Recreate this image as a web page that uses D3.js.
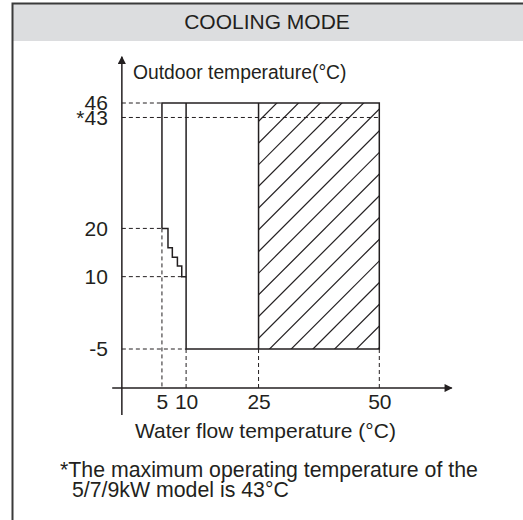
<!DOCTYPE html>
<html>
<head>
<meta charset="utf-8">
<script src="https://cdn.jsdelivr.net/npm/d3@7"></script>
<style>
  body { margin: 0; background: #fff; }
  text { font-family: "Liberation Sans", Arial, sans-serif; fill: #231f20; }
</style>
</head>
<body>
<div id="chart"></div>
<script>
// canvas size
var width = 523, height = 520;

// operating range (water flow temp, outdoor temp)
var xTicks = [5, 10, 25, 50];
var yTicks = [46, 43, 20, 10, -5];
var yTickLabels = ["46", "*43", "20", "10", "-5"];

// left boundary: step line from (5,20) down to (10,10)
var stepX = [5, 6.25, 6.25, 7.15, 7.15, 8.2, 8.2, 9.1, 9.1, 10];
var stepY = [20, 20, 16, 16, 14, 14, 12.2, 12.2, 10, 10];

var topTemp = 46, limitTemp = 43, lowTemp = -5;
var hatchFrom = 25, hatchTo = 50;

var titleText = "COOLING MODE";
var yLabel = "Outdoor temperature(°C)";
var xLabel = "Water flow temperature (°C)";
var noteLines = ["*The maximum operating temperature of the", "5/7/9kW model is 43°C"];

var ink = "#231f20";

var svg = d3.select("#chart").append("svg")
    .attr("width", width)
    .attr("height", height);

// header band and frame
svg.append("rect")
    .attr("x", 13).attr("y", 4)
    .attr("width", width - 13).attr("height", 37)
    .attr("fill", "#dcdddf");
svg.append("path")
    .attr("d", "M12.5," + height + "V3.5H" + width)
    .attr("fill", "none")
    .attr("stroke", "#3a3a3a")
    .attr("stroke-width", 2);

svg.append("text")
    .attr("x", 267).attr("y", 28.5)
    .attr("text-anchor", "middle")
    .style("font-size", "21px")
    .text(titleText);

// scales
var x = d3.scaleLinear().domain([0, 50]).range([137.8, 379.3]);
var y = d3.scaleLinear().domain([-5, 46]).range([349, 103]);

// axis extents in data units
var xAxisY = -13.1, yAxisX = -3.3;

// defs: arrow head
svg.append("defs").append("marker")
    .attr("id", "arrow")
    .attr("viewBox", "0 0 10 10")
    .attr("refX", 9).attr("refY", 5)
    .attr("markerWidth", 10).attr("markerHeight", 8)
    .attr("markerUnits", "userSpaceOnUse")
    .attr("orient", "auto")
  .append("path")
    .attr("d", "M0,0L10,5L0,10Z")
    .attr("fill", ink);

// dashed guide lines
var dash = svg.append("g")
    .attr("stroke", ink)
    .attr("stroke-width", 1)
    .attr("stroke-dasharray", "4,3");

function dline(x1, y1, x2, y2) {
    dash.append("line")
        .attr("x1", x(x1)).attr("y1", y(y1))
        .attr("x2", x(x2)).attr("y2", y(y2));
}
dline(yAxisX, topTemp, 5, topTemp);
dline(yAxisX, limitTemp, hatchTo, limitTemp);
dline(yAxisX, 20, 5, 20);
dline(yAxisX, 10, 10, 10);
dline(yAxisX, lowTemp, 10, lowTemp);
dline(5, 20, 5, xAxisY);
dline(10, lowTemp, 10, xAxisY);
dline(25, lowTemp, 25, xAxisY);
dline(50, lowTemp, 50, xAxisY);

// hatched area 25..50
svg.append("clipPath").attr("id", "hclip")
  .append("rect")
    .attr("x", x(hatchFrom)).attr("y", y(topTemp))
    .attr("width", x(hatchTo) - x(hatchFrom))
    .attr("height", y(lowTemp) - y(topTemp));

var hatch = svg.append("g")
    .attr("clip-path", "url(#hclip)")
    .attr("stroke", ink)
    .attr("stroke-width", 1.2);
var x0 = x(hatchFrom), x1 = x(hatchTo), y0 = y(topTemp), y1 = y(lowTemp);
var gap = 21.7, start = x0 + y1 - 10.7;
for (var c = start - gap * 12; c < x1 + y1 + gap; c += gap) {
    hatch.append("line")
        .attr("x1", x0 - 5).attr("y1", c - (x0 - 5))
        .attr("x2", x1 + 5).attr("y2", c - (x1 + 5));
}

// region outlines
var solid = svg.append("g")
    .attr("fill", "none")
    .attr("stroke", ink)
    .attr("stroke-width", 1.5);

var line = d3.line().x(d => x(d[0])).y(d => y(d[1]));

var outline = [[5, 20], [5, topTemp], [hatchTo, topTemp], [hatchTo, lowTemp], [10, lowTemp], [10, topTemp]];
solid.append("path").attr("d", line(outline));
solid.append("path").attr("d", line(d3.zip(stepX, stepY)));
solid.append("path").attr("d", line([[25, topTemp], [25, lowTemp]]));

// axes
var axes = svg.append("g")
    .attr("stroke", ink)
    .attr("stroke-width", 1.5);
axes.append("line")
    .attr("x1", x(yAxisX)).attr("y1", y(-18.7))
    .attr("x2", x(yAxisX)).attr("y2", y(55.6))
    .attr("marker-end", "url(#arrow)");
axes.append("line")
    .attr("x1", x(-5.3)).attr("y1", y(xAxisY))
    .attr("x2", x(65)).attr("y2", y(xAxisY))
    .attr("marker-end", "url(#arrow)");

// tick labels
var yAxis = svg.append("g")
    .attr("transform", "translate(" + x(yAxisX) + ",0)")
    .call(d3.axisLeft(y).tickValues(yTicks)
        .tickFormat((d, i) => yTickLabels[i])
        .tickSize(0).tickPadding(14));
var xAxis = svg.append("g")
    .attr("transform", "translate(0," + y(xAxisY) + ")")
    .call(d3.axisBottom(x).tickValues(xTicks)
        .tickSize(0).tickPadding(6));

[yAxis, xAxis].forEach(function (g) {
    g.select(".domain").remove();
    g.selectAll("text")
        .attr("fill", ink)
        .style("font-size", "21px")
        .style("font-family", "'Liberation Sans', Arial, sans-serif");
});

// axis titles
svg.append("text")
    .attr("x", 133).attr("y", 79)
    .style("font-size", "19.3px")
    .text(yLabel);
svg.append("text")
    .attr("x", 265.5).attr("y", 438)
    .attr("text-anchor", "middle")
    .style("font-size", "21px")
    .text(xLabel);

// footnote
svg.append("text")
    .attr("y", 477)
    .style("font-size", "21.3px")
    .selectAll("tspan")
    .data(noteLines)
    .enter().append("tspan")
        .attr("x", (d, i) => i === 0 ? 60 : 72)
        .attr("dy", (d, i) => i === 0 ? 0 : 20)
        .text(d => d);
</script>
</body>
</html>
